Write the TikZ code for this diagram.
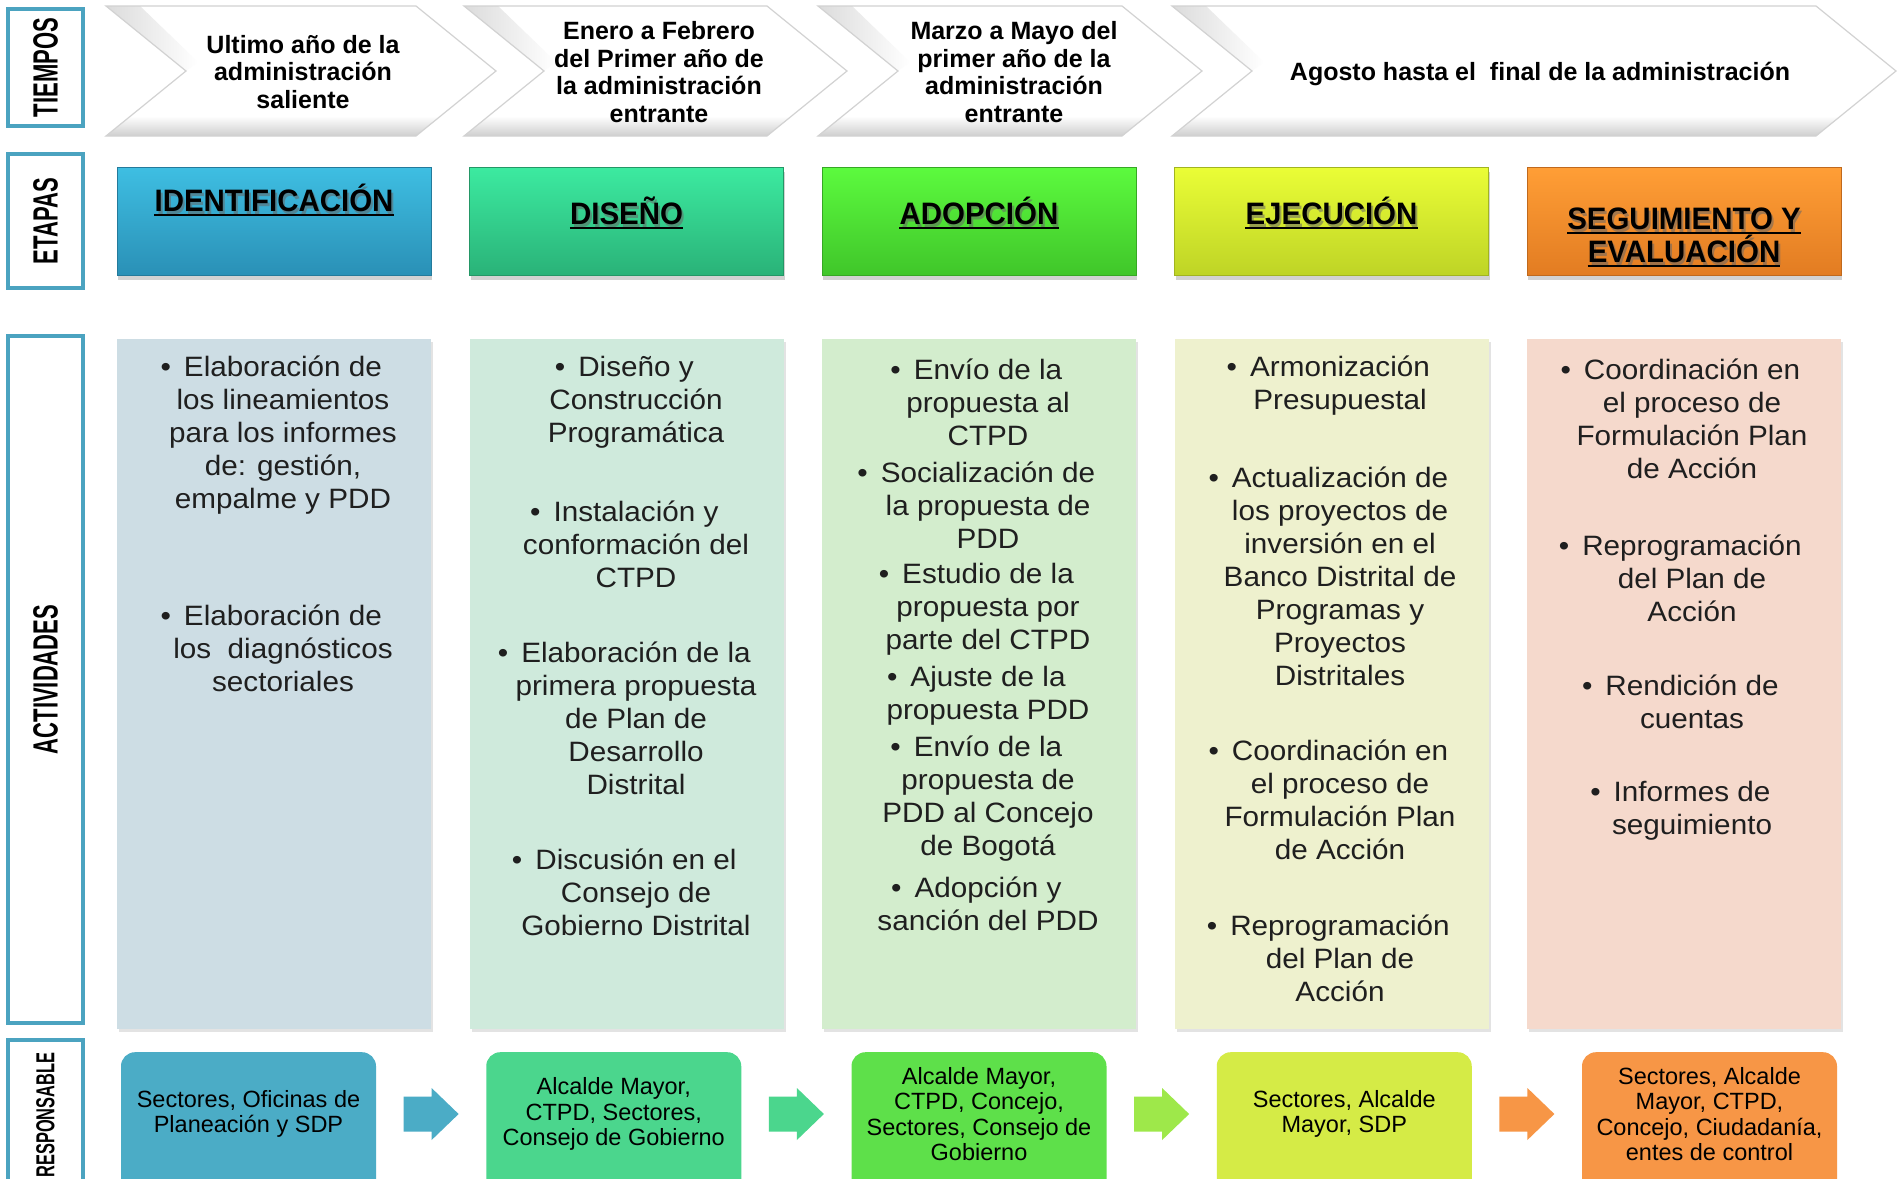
\documentclass[tikz,border=0pt]{standalone}
\usepackage{fontspec}
\setmainfont{Liberation Sans}
\newfontfamily\lblfont[FakeStretch=0.63]{Liberation Sans}
\newfontfamily\etfont[FakeStretch=0.95]{Liberation Sans}
\newfontfamily\actfont[FakeStretch=1.06]{Liberation Sans}
\usetikzlibrary{shadows,calc}

\definecolor{tealb}{RGB}{75,163,192}
\definecolor{eAt}{RGB}{62,190,226}\definecolor{eAb}{RGB}{42,144,182}
\definecolor{eBt}{RGB}{60,234,160}\definecolor{eBb}{RGB}{42,178,120}
\definecolor{eCt}{RGB}{92,250,62}\definecolor{eCb}{RGB}{64,198,42}
\definecolor{eDt}{RGB}{234,253,54}\definecolor{eDb}{RGB}{190,212,38}
\definecolor{eEt}{RGB}{255,158,54}\definecolor{eEb}{RGB}{226,124,34}
\definecolor{pA}{RGB}{205,221,228}
\definecolor{pB}{RGB}{207,234,220}
\definecolor{pC}{RGB}{211,237,205}
\definecolor{pD}{RGB}{238,241,206}
\definecolor{pE}{RGB}{245,217,204}
\definecolor{rA}{RGB}{75,172,198}
\definecolor{rB}{RGB}{75,214,141}
\definecolor{rC}{RGB}{94,224,74}
\definecolor{rD}{RGB}{213,235,70}
\definecolor{rE}{RGB}{247,150,70}
\definecolor{arC}{RGB}{158,232,74}

\newcommand\itb{\llap{\textbullet\hspace{13pt}}}

\newcommand\chev[2]{%
  \begin{scope}
    \clip (#1,6) -- (#2-80,6) -- (#2,71) -- (#2-80,136) -- (#1,136) -- (#1+80,71) -- cycle;
    \fill[white] (#1,0) rectangle (#2,140);
    \shade[top color=white, bottom color=gray!40] (#1,116) rectangle (#2,137);
    \shade[left color=gray!28, right color=white] (#1,6) -- (#1+80,71) -- (#1+92,62) -- (#1+34,6) -- cycle;
  \end{scope}
  \draw[gray!35, line width=1.2] (#1,6) -- (#2-80,6) -- (#2,71) -- (#2-80,136) -- (#1,136) -- (#1+80,71) -- cycle;
}

\newcommand\etl[3]{%
  \node[etlab, text=black!60, opacity=0.55] at ($#2+(2,3)$) {#3};
  \node[etlab] (#1) at #2 {#3};
  \draw[line width=2.6] ([yshift=-4pt]#1.base west) -- ([yshift=-4pt]#1.base east);
}

\newcommand\barrow[2]{%
  \fill[#2] ($(#1)+(-27.5,-17.5)$) -- ($(#1)+(0.5,-17.5)$) -- ($(#1)+(0.5,-26)$) -- ($(#1)+(27.5,0)$)
    -- ($(#1)+(0.5,26)$) -- ($(#1)+(0.5,17.5)$) -- ($(#1)+(-27.5,17.5)$) -- cycle;
}

\begin{document}
\begin{tikzpicture}[x=1pt,y=-1pt,
  lbox/.style={draw=tealb, line width=4, fill=white, inner sep=0, rotate=90,
    font=\lblfont\bfseries\fontsize{35}{40}\selectfont},
  chtext/.style={align=center, inner sep=0, font=\bfseries\fontsize{25}{27.6}\selectfont},
  etbox/.style 2 args={minimum width=314, minimum height=108, inner sep=0, top color=#1, bottom color=#2,
    draw=#2!85!black, line width=0.8, drop shadow={opacity=0.35, shadow xshift=1pt, shadow yshift=-4pt}},
  etlab/.style={anchor=base, inner sep=0, font=\etfont\bfseries\fontsize{31}{36}\selectfont},
  apanel/.style={minimum width=314, minimum height=690, inner sep=0, fill=#1,
    drop shadow={opacity=0.22, shadow xshift=2pt, shadow yshift=-3pt}},
  act/.style={align=center, inner sep=0, text=black!88, font=\actfont\fontsize{28}{33}\selectfont},
  rbox/.style={minimum width=255, minimum height=150, inner sep=0, rounded corners=14, fill=#1, anchor=north},
  rtext/.style={align=center, inner sep=0, font=\fontsize{23.5}{25.5}\selectfont}
]
\clip (0,0) rectangle (1898,1178);
\fill[white] (0,0) rectangle (1898,1178);

% left labels
\node[lbox, minimum width=117, minimum height=75] (tiempos) at (45.5,67.5) {TIEMPOS};
\node[lbox, minimum width=134, minimum height=75] (etapas) at (45.5,221) {ETAPAS};
\node[lbox, minimum width=687, minimum height=75] (actividades) at (45.5,679.5) {ACTIVIDADES};
\node[lbox, minimum width=150, minimum height=75, font=\lblfont\bfseries\fontsize{26}{30}\selectfont] (responsable) at (45.5,1115) {RESPONSABLE};

% chevrons (tiempos)
\chev{106}{496}
\chev{464}{847}
\chev{818}{1202}
\chev{1172}{1896}
\node[chtext] (t1) at (303,72) {Ultimo año de la\\administración\\saliente};
\node[chtext] (t2) at (659,72) {Enero a Febrero\\del Primer año de\\la administración\\entrante};
\node[chtext] (t3) at (1014,72) {Marzo a Mayo del\\primer año de la\\administración\\entrante};
\node[chtext] (t4) at (1540,74) {Agosto hasta el~~final de la administración};

% etapas
\node[etbox={eAt}{eAb}] (e1) at (274,221.5) {};
\node[etbox={eBt}{eBb}] (e2) at (626.5,221.5) {};
\node[etbox={eCt}{eCb}] (e3) at (979,221.5) {};
\node[etbox={eDt}{eDb}] (e4) at (1331.5,221.5) {};
\node[etbox={eEt}{eEb}] (e5) at (1684,221.5) {};
\etl{l1}{(274,211)}{IDENTIFICACIÓN}
\etl{l2}{(626.5,224)}{DISEÑO}
\etl{l3}{(979,224)}{ADOPCIÓN}
\etl{l4}{(1331.5,224)}{EJECUCIÓN}
\etl{l5a}{(1684,229)}{SEGUIMIENTO Y}
\etl{l5b}{(1684,262)}{EVALUACIÓN}

% actividades panels
\node[apanel=pA] (p1) at (274,684) {};
\node[apanel=pB] (p2) at (627,684) {};
\node[apanel=pC] (p3) at (978.5,684) {};
\node[apanel=pD] (p4) at (1331.5,684) {};
\node[apanel=pE] (p5) at (1684,684) {};

\node[act] (a11) at (283,435) {\itb Elaboración de\\los lineamientos\\para los informes\\de: gestión,\\empalme y PDD};
\node[act] (a12) at (283,648) {\itb Elaboración de\\los~~diagnósticos\\sectoriales};

\node[act] (a21) at (636,402.5) {\itb Diseño y\\Construcción\\Programática};
\node[act] (a22) at (636,544) {\itb Instalación y\\conformación del\\CTPD};
\node[act] (a23) at (636,718) {\itb Elaboración de la\\primera propuesta\\de Plan de\\Desarrollo\\Distrital};
\node[act] (a24) at (636,892.5) {\itb Discusión en el\\Consejo de\\Gobierno Distrital};

\node[act] (a31) at (988,402.5) {\itb Envío de la\\propuesta al\\CTPD};
\node[act] (a32) at (988,505) {\itb Socialización de\\la propuesta de\\PDD};
\node[act] (a33) at (988,609) {\itb Estudio de la\\propuesta por\\parte del CTPD};
\node[act] (a34) at (988,696) {\itb Ajuste de la\\propuesta PDD};
\node[act] (a35) at (988,799) {\itb Envío de la\\propuesta de\\PDD al Concejo\\de Bogotá};
\node[act] (a36) at (988,904) {\itb Adopción y\\sanción del PDD};

\node[act] (a41) at (1340,386) {\itb Armonización\\Presupuestal};
\node[act] (a42) at (1340,576.5) {\itb Actualización de\\los proyectos de\\inversión en el\\Banco Distrital de\\Programas y\\Proyectos\\Distritales};
\node[act] (a43) at (1340,800) {\itb Coordinación en\\el proceso de\\Formulación Plan\\de Acción};
\node[act] (a44) at (1340,958) {\itb Reprogramación\\del Plan de\\Acción};

\node[act] (a51) at (1692,418.5) {\itb Coordinación en\\el proceso de\\Formulación Plan\\de Acción};
\node[act] (a52) at (1692,578) {\itb Reprogramación\\del Plan de\\Acción};
\node[act] (a53) at (1692,702) {\itb Rendición de\\cuentas};
\node[act] (a54) at (1692,811) {\itb Informes de\\seguimiento};

% responsables
\node[rbox=rA] (r1) at (248.5,1052) {};
\node[rbox=rB] (r2) at (613.75,1052) {};
\node[rbox=rC] (r3) at (979,1052) {};
\node[rbox=rD] (r4) at (1344.25,1052) {};
\node[rbox=rE] (r5) at (1709.5,1052) {};
\node[rtext] (r1t) at (248.5,1114) {Sectores, Oficinas de\\Planeación y SDP};
\node[rtext] (r2t) at (613.75,1114) {Alcalde Mayor,\\CTPD, Sectores,\\Consejo de Gobierno};
\node[rtext] (r3t) at (979,1114) {Alcalde Mayor,\\CTPD, Concejo,\\Sectores, Consejo de\\Gobierno};
\node[rtext] (r4t) at (1344.25,1114) {Sectores, Alcalde\\Mayor, SDP};
\node[rtext] (r5t) at (1709.5,1114) {Sectores, Alcalde\\Mayor, CTPD,\\Concejo, Ciudadanía,\\entes de control};

% block arrows between responsables
\coordinate (m1) at ($(r1t)!0.5!(r2t)$);
\coordinate (m2) at ($(r2t)!0.5!(r3t)$);
\coordinate (m3) at ($(r3t)!0.5!(r4t)$);
\coordinate (m4) at ($(r4t)!0.5!(r5t)$);
\barrow{m1}{rA}
\barrow{m2}{rB}
\barrow{m3}{arC}
\barrow{m4}{rE}
\end{tikzpicture}
\end{document}
